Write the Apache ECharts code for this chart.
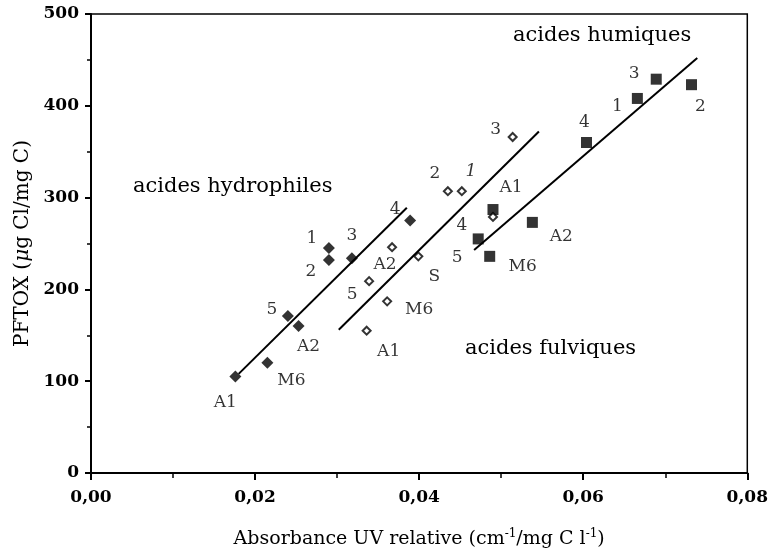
<!DOCTYPE html>
<html>
<head>
<meta charset="utf-8">
<script src="https://cdn.jsdelivr.net/npm/echarts@6/dist/echarts.min.js"></script>
<style>
html,body{margin:0;padding:0;background:#fff;}
#chart{width:771px;height:557px;}
</style>
</head>
<body>
<div id="chart"></div>
<script>
// ---- data ----
const hydroNames = ['A1','M6','5','A2','1','2','3','4'];
const hydroX = [0.0176,0.0215,0.0240,0.0253,0.0290,0.0290,0.0318,0.0389];
const hydroY = [105,120,171,160,245,232,234,275];

const fulvNames = ['A1','M6','5','A2','S','2','1','3','4'];
const fulvX = [0.0336,0.0361,0.0339,0.0367,0.0399,0.0435,0.0452,0.0514,0.0490];
const fulvY = [155,187,209,246,236,307,307,366,279];

const humNames = ['5','M6','A1','A2','4','1','3','2'];
const humX = [0.0472,0.0486,0.0490,0.0538,0.0604,0.0666,0.0689,0.0732];
const humY = [255,236,287,273,360,408,429,423];

const hydroLineX = [0.0180,0.0385];
const hydroLineY = [108,289];
const fulvLineX = [0.0302,0.0546];
const fulvLineY = [156,372];
const humLineX = [0.0467,0.0739];
const humLineY = [243,452];

const xTicks = [0,0.02,0.04,0.06,0.08];
const yTicks = [0,100,200,300,400,500];

// ---- label placement (style only) ----
const hydroLabelOff = [[-10,26],[24,18],[-16,-6],[10,20],[-17,-10],[-18,12],[0,-23],[-15,-11]];
const fulvLabelOff = [[22,21],[32,8],[-17,13],[-7,17],[16,20],[-13,-18],[9,-20],[-17,-7],[-31,9]];
const humLabelOff = [[-21,19],[33,10],[18,-22],[29,14],[-2,-20],[-20,8],[-22,-6],[9,22]];

const FONT = 'DejaVu Serif';

function pts(xs, ys, names, offs, italicIdx) {
  return xs.map((x, i) => ({
    value: [x, ys[i]],
    name: names[i],
    label: {offset: offs[i], fontStyle: (italicIdx === i ? 'italic' : 'normal')}
  }));
}
function line(xs, ys) { return xs.map((x, i) => [x, ys[i]]); }

const labelBase = {
  show: true, position: 'inside', formatter: '{b}',
  color: '#000', fontFamily: FONT, fontSize: 17
};

const chart = echarts.init(document.getElementById('chart'), null, {renderer: 'canvas'});
chart.setOption({
  animation: false,
  backgroundColor: '#fff',
  grid: {left: 91, right: 18, top: 14, bottom: 84, show: true, borderColor: '#000', borderWidth: 1.5},
  xAxis: {
    type: 'value', min: 0, max: 0.08, interval: 0.02,
    name: 'Absorbance UV relative (cm{sup|-1}/mg C l{sup|-1})',
    nameLocation: 'middle', nameGap: 55,
    nameTextStyle: {fontFamily: FONT, fontSize: 19, color: '#000',
      rich: {sup: {fontFamily: FONT, fontSize: 12, verticalAlign: 'top', color: '#000', padding:[0,0,10,0]}}},
    axisLine: {lineStyle: {color: '#000', width: 2}},
    axisTick: {inside: false, length: 7, lineStyle: {color: '#000', width: 2}},
    minorTick: {show: true, splitNumber: 2, length: 5, lineStyle: {color: '#000', width: 1.5}},
    splitLine: {show: false},
    axisLabel: {fontFamily: FONT, fontSize: 17, fontWeight: 'bold', color: '#000', margin: 16,
      formatter: v => xTicks.includes(+v.toFixed(2)) ? v.toFixed(2).replace('.', ',') : ''}
  },
  yAxis: {
    type: 'value', min: 0, max: 500, interval: 100,
    name: 'PFTOX ({i|μ}g Cl/mg C)',
    nameLocation: 'middle', nameGap: 58,
    nameTextStyle: {fontFamily: FONT, fontSize: 20, color: '#000',
      rich: {i: {fontFamily: FONT, fontSize: 20, fontStyle: 'italic', color: '#000'}}},
    axisLine: {lineStyle: {color: '#000', width: 2}},
    axisTick: {inside: false, length: 6, lineStyle: {color: '#000', width: 2}},
    minorTick: {show: true, splitNumber: 2, length: 4, lineStyle: {color: '#000', width: 1.5}},
    splitLine: {show: false},
    axisLabel: {fontFamily: FONT, fontSize: 17, fontWeight: 'bold', color: '#000', margin: 12,
      formatter: v => yTicks.includes(v) ? String(v) : ''}
  },
  graphic: [
    {type: 'text', left: 133, top: 176, style: {text: 'acides hydrophiles', font: '21px "DejaVu Serif"', fill: '#000'}},
    {type: 'text', left: 513, top: 25, style: {text: 'acides humiques', font: '21px "DejaVu Serif"', fill: '#000'}},
    {type: 'text', left: 465, top: 338, style: {text: 'acides fulviques', font: '21px "DejaVu Serif"', fill: '#000'}}
  ],
  series: [
    {type: 'line', data: line(hydroLineX, hydroLineY), symbol: 'none', lineStyle: {color: '#000', width: 2}, z: 1},
    {type: 'line', data: line(fulvLineX, fulvLineY), symbol: 'none', lineStyle: {color: '#000', width: 2}, z: 1},
    {type: 'line', data: line(humLineX, humLineY), symbol: 'none', lineStyle: {color: '#000', width: 2}, z: 1},
    {type: 'scatter', data: pts(hydroX, hydroY, hydroNames, hydroLabelOff), symbol: 'diamond', symbolSize: 12,
      itemStyle: {color: '#000'}, label: labelBase, z: 3},
    {type: 'scatter', data: pts(humX, humY, humNames, humLabelOff), symbol: 'rect', symbolSize: 11,
      itemStyle: {color: '#000'}, label: labelBase, z: 3},
    {type: 'scatter', data: pts(fulvX, fulvY, fulvNames, fulvLabelOff, 6), symbol: 'diamond', symbolSize: 8,
      itemStyle: {color: '#fff', borderColor: '#000', borderWidth: 2}, label: labelBase, z: 4}
  ]
});
</script>
</body>
</html>
